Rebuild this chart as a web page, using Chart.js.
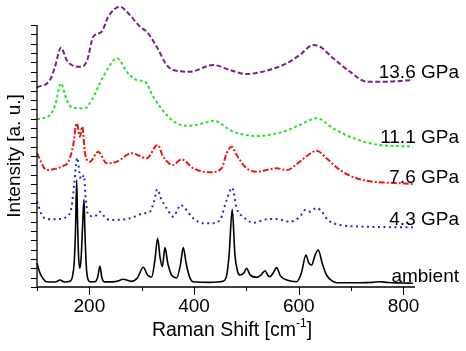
<!DOCTYPE html>
<html lang="en">
  <head>
    <meta charset="UTF-8" />
    <title>Raman spectra under pressure</title>
    <script src="https://cdn.jsdelivr.net/npm/chart.js"></script>
    <style>
      body { margin: 0; background: #fff; }
      canvas { display: block; }
    </style>
  </head>
  <body>
    <canvas id="myChart" width="466" height="351"></canvas>

    <script>
      // spectra: [Raman shift (cm-1), intensity (a.u., offset stacked)]
      const ambient = [[100,2.58],[105,1.6],[112,0.85],[118,0.57],[135,0.54],[144,0.75],[152,0.54],[163,0.62],[168,1.2],[171,2.6],[173.5,6],[175.8,11.5],[177.5,7],[179.5,3.2],[182,2.0],[184.5,3.3],[187,6.5],[189.7,9.4],[191.5,6],[194,2.4],[197,0.9],[202,0.55],[212,0.6],[216,1.1],[220.3,2.26],[223.5,1.1],[229,0.55],[250,0.58],[265,0.83],[280,0.6],[292,1.0],[303,2.12],[311,1.3],[319,1.08],[325,2.8],[330.5,5.24],[335,3.2],[339.3,2.18],[344.4,4.23],[350,2.5],[358,1.2],[366.8,0.97],[374,2.4],[379.4,4.23],[385,2.5],[392,1.0],[398,0.57],[430,0.5],[455,0.62],[462,1.2],[467,3.5],[472.9,8.35],[478,3.5],[483,1.7],[487.6,1.29],[495,1.5],[500.4,2.0],[507,1.3],[519.5,1.04],[528,1.3],[535.4,1.75],[541,1.25],[545,1.11],[551,1.5],[557.7,2.08],[565,1.2],[577,0.75],[596,0.57],[605,1.5],[613.7,3.44],[619,2.6],[624.6,2.37],[631,3.4],[637.2,3.98],[645,2.5],[653,1.29],[665,0.6],[672,0.46],[720,0.46],[740,0.5],[755,0.57],[770,0.48],[800,0.43],[818,0.4]];
      const gpa43 = [[100,9.17],[112,7.49],[131,7.28],[157,7.56],[166,8.63],[171,11],[177,13.9],[181,12.3],[184,11.6],[189.7,12.0],[193,9.5],[198,7.74],[210,7.6],[220.3,8.1],[230,7.5],[239.4,7.2],[277.6,7.39],[303,7.92],[315.8,8.1],[323.4,9.17],[329.7,10.51],[338.1,9.35],[347.7,8.46],[360.3,7.56],[374.4,8.82],[382.6,8.46],[398.5,7.39],[417.6,6.85],[433.6,6.85],[449.4,7.2],[462.2,9.35],[472.9,10.68],[481.3,8.46],[494,7.56],[513,6.91],[538.6,7.28],[557.7,7.31],[583,7.02],[602,7.56],[613,8.3],[622,8.1],[634,8.5],[644,8.1],[656,7.2],[679,6.67],[730,6.48],[818,6.42]];
      const gpa76 = [[100,14.38],[118.5,12.58],[131,12.66],[150,13.01],[160,13.47],[169,15.2],[175.8,17.6],[182.1,16.16],[186.5,17.24],[191.7,14.38],[201,13.47],[217,14.55],[233,13.3],[252,13.47],[281,14.38],[309.5,13.84],[330.5,15.27],[341,14.01],[360,13.12],[376,13.73],[398.5,12.76],[430,12.33],[452.7,12.76],[462.2,14.38],[471.8,15.09],[481.3,14.19],[500.4,12.76],[519.5,12.4],[557.7,12.76],[576.8,12.58],[602,13.47],[618,14.19],[634,14.66],[653,13.84],[678.6,12.58],[710.5,11.69],[742,11.32],[768,11.22],[818,11.08]];
      const gpa111 = [[100,18.03],[124.8,18.49],[135,19.6],[145.8,21.9],[156.7,20.11],[166.3,19.32],[191.7,19.22],[204.5,20.11],[226.6,22.61],[253.3,24.59],[271.3,23.15],[290.4,22.26],[306.2,22.08],[322,20.46],[347.7,18.49],[366.8,17.6],[392,17.34],[417.6,17.6],[436.6,17.88],[474.8,16.7],[519.5,16.24],[570,16.7],[602,17.42],[634,18.14],[665.8,17.06],[697.7,16.16],[742,15.38],[818,15.09]];
      const gpa136 = [[100,21.47],[124.8,22.26],[134.4,23.69],[145.8,25.73],[156.7,24.41],[166.3,23.87],[182,23.69],[195,24.23],[207.5,26.91],[223.5,27.45],[236,29.06],[258.5,30.14],[274.3,29.43],[296.7,27.99],[309.5,27.45],[328.6,25.84],[347.7,23.87],[360.3,23.33],[392,23.15],[436.6,23.87],[468.5,23.33],[500.4,22.9],[538.6,23.26],[576.8,24.05],[602,24.95],[627.6,26.02],[640.4,25.84],[665.8,24.59],[697.7,23.15],[729.6,22.08],[768,22.08],[818,22.26]];

      const seriesLabels = ["ambient", "4.3 GPa", "7.6 GPa", "11.1 GPa", "13.6 GPa"];
      const xTickLabels = [200, 400, 600, 800];

      const FONT = '"Liberation Sans", Arial, sans-serif';

      const toXY = (arr) => arr.map((p) => ({ x: p[0], y: p[1] }));

      function line(data, color, dash, width) {
        return {
          data: toXY(data),
          borderColor: color,
          borderWidth: width,
          borderDash: dash,
          pointRadius: 0,
          fill: false,
          cubicInterpolationMode: "monotone",
          clip: false,
        };
      }

      // axes, ticks, titles and the curve labels
      const axesPlugin = {
        id: "axes",
        afterDatasetsDraw(chart) {
          const ctx = chart.ctx;
          const a = chart.chartArea;
          const xs = chart.scales.x;
          ctx.save();
          ctx.strokeStyle = "#000";
          ctx.lineWidth = 1.3;
          ctx.beginPath();
          ctx.moveTo(a.left, a.top);
          ctx.lineTo(a.left, a.bottom);
          ctx.lineTo(a.right, a.bottom);
          ctx.stroke();

          // y minor ticks (no numbers on this axis)
          ctx.lineWidth = 1;
          for (let i = 0; i <= 28; i++) {
            const y = Math.round(a.bottom - (i * (a.bottom - a.top)) / 28) + 0.5;
            ctx.beginPath();
            ctx.moveTo(a.left - 6, y);
            ctx.lineTo(a.left, y);
            ctx.stroke();
          }
          // x ticks
          for (let v = 100; v <= 800; v += 100) {
            const x = Math.round(xs.getPixelForValue(v)) + 0.5;
            const len = v % 200 === 0 ? 8 : 4;
            ctx.beginPath();
            ctx.moveTo(x, a.bottom);
            ctx.lineTo(x, a.bottom + len);
            ctx.stroke();
          }

          ctx.fillStyle = "#000";
          ctx.font = "19px " + FONT;
          ctx.textAlign = "center";
          ctx.textBaseline = "alphabetic";
          xTickLabels.forEach((v) => {
            ctx.fillText(String(v), xs.getPixelForValue(v), 312);
          });

          // x title with superscript
          const t1 = "Raman Shift [cm";
          const sup = "-1";
          const t2 = "]";
          ctx.font = "19.5px " + FONT;
          const w1 = ctx.measureText(t1).width;
          const w3 = ctx.measureText(t2).width;
          ctx.font = "12px " + FONT;
          const w2 = ctx.measureText(sup).width;
          let x0 = 232 - (w1 + w2 + w3) / 2;
          ctx.textAlign = "left";
          ctx.font = "19.5px " + FONT;
          ctx.fillText(t1, x0, 336);
          ctx.font = "12px " + FONT;
          ctx.fillText(sup, x0 + w1, 327);
          ctx.font = "19.5px " + FONT;
          ctx.fillText(t2, x0 + w1 + w2, 336);

          // y title
          ctx.save();
          ctx.translate(20, (a.top + a.bottom) / 2);
          ctx.rotate(-Math.PI / 2);
          ctx.font = "19px " + FONT;
          ctx.textAlign = "center";
          ctx.fillText("Intensity [a. u.]", 0, 0);
          ctx.restore();

          // curve labels at the right
          const labelBase = [282, 225, 183, 143, 78];
          ctx.font = "19px " + FONT;
          ctx.textAlign = "right";
          seriesLabels.forEach((s, i) => {
            ctx.fillText(s, 459, labelBase[i]);
          });
          ctx.restore();
        },
      };

      new Chart(document.getElementById("myChart").getContext("2d"), {
        type: "line",
        data: {
          datasets: [
            line(ambient, "#000000", [], 1.6),
            line(gpa43, "#2626d4", [2, 3.5], 2),
            line(gpa76, "#e81818", [6, 2, 2, 2], 2),
            line(gpa111, "#2ee02e", [3, 2.5], 2),
            line(gpa136, "#7b1e8c", [5, 2.5], 2),
          ],
        },
        options: {
          responsive: false,
          animation: false,
          devicePixelRatio: 1,
          layout: { padding: { left: 37, right: 51, top: 25, bottom: 64 } },
          plugins: { legend: { display: false }, tooltip: { enabled: false } },
          scales: {
            x: { type: "linear", min: 100, max: 822, display: false },
            y: { type: "linear", min: 0, max: 28.17, display: false },
          },
        },
        plugins: [axesPlugin],
      });
    </script>
  </body>
</html>
